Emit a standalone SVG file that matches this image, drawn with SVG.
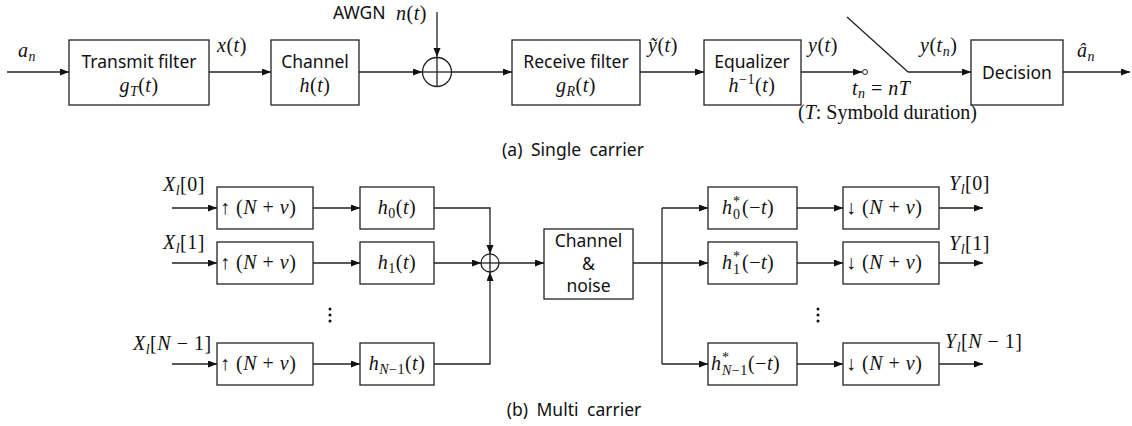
<svg xmlns="http://www.w3.org/2000/svg" width="1132" height="426" viewBox="0 0 1132 426">
<style>
.s{font-family:"Noto Sans","Liberation Sans",sans-serif;font-size:17.5px;fill:#111}
.m{font-family:"Liberation Serif",serif;font-size:20px;fill:#111;letter-spacing:0.5px}
.i{font-style:italic}
.sb{font-size:14px}
.box{fill:#fff;stroke:#222;stroke-width:1.3}
.ln{fill:none;stroke:#222;stroke-width:1.3}
.ar{marker-end:url(#ah)}
</style>
<defs>
<marker id="ah" markerUnits="userSpaceOnUse" markerWidth="10" markerHeight="8" refX="9" refY="3.5" orient="auto">
<path d="M0,0 L9,3.5 L0,7 z" fill="#111"/>
</marker>
</defs>
<rect width="1132" height="426" fill="#fff"/>

<!-- connectors -->
<g id="connectors">
<!-- part a -->
<line class="ln ar" x1="7" y1="72" x2="69" y2="72"/>
<line class="ln ar" x1="209" y1="72" x2="271" y2="72"/>
<line class="ln ar" x1="359" y1="72" x2="422" y2="72"/>
<line class="ln ar" x1="437" y1="12" x2="437" y2="57"/>
<line class="ln ar" x1="452" y1="72" x2="512" y2="72"/>
<line class="ln ar" x1="640" y1="72" x2="704" y2="72"/>
<line class="ln ar" x1="801" y1="72" x2="862" y2="72"/>
<circle cx="865" cy="72" r="2.5" fill="#fff" stroke="#222" stroke-width="1"/>
<line class="ln" x1="847" y1="17" x2="908" y2="72"/>
<line class="ln ar" x1="908" y1="72" x2="971" y2="72"/>
<line class="ln ar" x1="1063" y1="72" x2="1130" y2="72"/>
<!-- part b -->
<line class="ln ar" x1="172" y1="208" x2="217" y2="208"/>
<line class="ln ar" x1="172" y1="263" x2="217" y2="263"/>
<line class="ln ar" x1="172" y1="364" x2="217" y2="364"/>
<line class="ln ar" x1="313" y1="208" x2="360" y2="208"/>
<line class="ln ar" x1="313" y1="263" x2="360" y2="263"/>
<line class="ln ar" x1="313" y1="364" x2="360" y2="364"/>
<polyline class="ln ar" points="434,208 490,208 490,254"/>
<line class="ln ar" x1="434" y1="263" x2="481" y2="263"/>
<polyline class="ln ar" points="434,364 490,364 490,272"/>
<line class="ln ar" x1="499" y1="263" x2="544" y2="263"/>
<line class="ln ar" x1="633" y1="263" x2="708" y2="263"/>
<line class="ln" x1="662" y1="208" x2="662" y2="364"/>
<line class="ln ar" x1="662" y1="208" x2="708" y2="208"/>
<line class="ln ar" x1="662" y1="364" x2="708" y2="364"/>
<line class="ln ar" x1="797" y1="208" x2="843" y2="208"/>
<line class="ln ar" x1="797" y1="263" x2="843" y2="263"/>
<line class="ln ar" x1="797" y1="364" x2="843" y2="364"/>
<line class="ln ar" x1="939" y1="208" x2="983" y2="208"/>
<line class="ln ar" x1="939" y1="263" x2="983" y2="263"/>
<line class="ln ar" x1="939" y1="364" x2="983" y2="364"/>
</g>

<!-- part a nodes -->
<g id="transmit">
<rect class="box" x="69" y="40" width="140" height="65"/>
<text class="s" x="139" y="68" text-anchor="middle">Transmit filter</text>
<text class="m" x="139" y="92" text-anchor="middle"><tspan class="i">g</tspan><tspan class="i sb" dy="4">T</tspan><tspan dy="-4">(</tspan><tspan class="i">t</tspan>)</text>
</g>
<g id="channel">
<rect class="box" x="271" y="40" width="88" height="65"/>
<text class="s" x="315" y="68" text-anchor="middle">Channel</text>
<text class="m" x="315" y="92" text-anchor="middle"><tspan class="i">h</tspan>(<tspan class="i">t</tspan>)</text>
</g>
<g id="adder-a">
<circle cx="437" cy="72" r="14.5" fill="#fff" stroke="#222" stroke-width="1.3"/>
<line class="ln" x1="422.5" y1="72" x2="451.5" y2="72"/>
<line class="ln" x1="437" y1="57.5" x2="437" y2="86.5"/>
</g>
<g id="receive">
<rect class="box" x="512" y="40" width="128" height="65"/>
<text class="s" x="576" y="68" text-anchor="middle">Receive filter</text>
<text class="m" x="576" y="92" text-anchor="middle"><tspan class="i">g</tspan><tspan class="i sb" dy="4">R</tspan><tspan dy="-4">(</tspan><tspan class="i">t</tspan>)</text>
</g>
<g id="equalizer">
<rect class="box" x="704" y="40" width="97" height="65"/>
<text class="s" x="752" y="68" text-anchor="middle">Equalizer</text>
<text class="m" x="752" y="92" text-anchor="middle"><tspan class="i">h</tspan><tspan class="sb" dy="-8">−1</tspan><tspan dy="8">(</tspan><tspan class="i">t</tspan>)</text>
</g>
<g id="decision">
<rect class="box" x="971" y="40" width="92" height="65"/>
<text class="s" x="1017" y="79" text-anchor="middle">Decision</text>
</g>

<!-- part a labels -->
<g id="labels-a">
<text class="m" x="18" y="57"><tspan class="i">a</tspan><tspan class="i sb" dy="4">n</tspan></text>
<text class="m" x="217" y="52"><tspan class="i">x</tspan>(<tspan class="i">t</tspan>)</text>
<text class="s" x="333" y="19">AWGN</text>
<text class="m" x="396" y="20"><tspan class="i">n</tspan>(<tspan class="i">t</tspan>)</text>
<text class="m" x="648" y="52"><tspan class="i">ỹ</tspan>(<tspan class="i">t</tspan>)</text>
<text class="m" x="808" y="52"><tspan class="i">y</tspan>(<tspan class="i">t</tspan>)</text>
<text class="m" x="920" y="52"><tspan class="i">y</tspan>(<tspan class="i">t</tspan><tspan class="i sb" dy="4">n</tspan><tspan dy="-4">)</tspan></text>
<text class="m" x="1077" y="57"><tspan class="i">â</tspan><tspan class="i sb" dy="4">n</tspan></text>
<text class="m" x="852" y="95"><tspan class="i">t</tspan><tspan class="i sb" dy="3">n</tspan><tspan dy="-3"> = </tspan><tspan class="i">nT</tspan></text>
<text class="m" x="798" y="119" style="letter-spacing:0">(<tspan class="i">T</tspan>: Symbold duration)</text>
<text class="s" x="573" y="156" text-anchor="middle" style="word-spacing:4px">(a) Single carrier</text>
</g>

<!-- part b nodes -->
<g id="up0">
<rect class="box" x="217" y="187" width="96" height="42"/>
<text class="m" x="220" y="214">↑ (<tspan class="i">N</tspan> + <tspan class="i">v</tspan>)</text>
</g>
<g id="up1">
<rect class="box" x="217" y="242" width="96" height="42"/>
<text class="m" x="220" y="269">↑ (<tspan class="i">N</tspan> + <tspan class="i">v</tspan>)</text>
</g>
<g id="upN">
<rect class="box" x="217" y="343" width="96" height="42"/>
<text class="m" x="220" y="370">↑ (<tspan class="i">N</tspan> + <tspan class="i">v</tspan>)</text>
</g>
<g id="h0">
<rect class="box" x="360" y="187" width="74" height="42"/>
<text class="m" x="397" y="214" text-anchor="middle"><tspan class="i">h</tspan><tspan class="sb" dy="4">0</tspan><tspan dy="-4">(</tspan><tspan class="i">t</tspan>)</text>
</g>
<g id="h1">
<rect class="box" x="360" y="242" width="74" height="42"/>
<text class="m" x="397" y="269" text-anchor="middle"><tspan class="i">h</tspan><tspan class="sb" dy="4">1</tspan><tspan dy="-4">(</tspan><tspan class="i">t</tspan>)</text>
</g>
<g id="hN">
<rect class="box" x="360" y="343" width="74" height="42"/>
<text class="m" x="397" y="370" text-anchor="middle"><tspan class="i">h</tspan><tspan class="sb" dy="4"><tspan class="i">N</tspan>−1</tspan><tspan dy="-4">(</tspan><tspan class="i">t</tspan>)</text>
</g>
<g id="adder-b">
<circle cx="490" cy="263" r="9" fill="#fff" stroke="#222" stroke-width="1.3"/>
<line class="ln" x1="481" y1="263" x2="499" y2="263"/>
<line class="ln" x1="490" y1="254" x2="490" y2="272"/>
</g>
<g id="channel-noise">
<rect class="box" x="544" y="229" width="89" height="70"/>
<text class="s" x="588.5" y="247" text-anchor="middle">Channel</text>
<text class="s" x="588.5" y="270" text-anchor="middle">&amp;</text>
<text class="s" x="588.5" y="292" text-anchor="middle">noise</text>
</g>
<g id="mf0">
<rect class="box" x="708" y="187" width="89" height="42"/>
<text class="m" x="722" y="214"><tspan class="i">h</tspan><tspan class="sb" x="733" dy="-8">*</tspan><tspan class="sb" x="733" dy="13">0</tspan><tspan x="742" dy="-5">(−</tspan><tspan class="i">t</tspan>)</text>
</g>
<g id="mf1">
<rect class="box" x="708" y="242" width="89" height="42"/>
<text class="m" x="722" y="269"><tspan class="i">h</tspan><tspan class="sb" x="733" dy="-8">*</tspan><tspan class="sb" x="733" dy="13">1</tspan><tspan x="742" dy="-5">(−</tspan><tspan class="i">t</tspan>)</text>
</g>
<g id="mfN">
<rect class="box" x="708" y="343" width="89" height="42"/>
<text class="m" x="711" y="370"><tspan class="i">h</tspan><tspan class="sb" x="722" dy="-8">*</tspan><tspan class="sb" x="722" dy="13"><tspan class="i">N</tspan>−1</tspan><tspan x="748" dy="-5">(−</tspan><tspan class="i">t</tspan>)</text>
</g>
<g id="down0">
<rect class="box" x="843" y="187" width="96" height="42"/>
<text class="m" x="846" y="214">↓ (<tspan class="i">N</tspan> + <tspan class="i">v</tspan>)</text>
</g>
<g id="down1">
<rect class="box" x="843" y="242" width="96" height="42"/>
<text class="m" x="846" y="269">↓ (<tspan class="i">N</tspan> + <tspan class="i">v</tspan>)</text>
</g>
<g id="downN">
<rect class="box" x="843" y="343" width="96" height="42"/>
<text class="m" x="846" y="370">↓ (<tspan class="i">N</tspan> + <tspan class="i">v</tspan>)</text>
</g>

<!-- part b labels -->
<g id="labels-b">
<text class="m" x="163" y="191"><tspan class="i">X</tspan><tspan class="i sb" dy="4">l</tspan><tspan dy="-4">[0]</tspan></text>
<text class="m" x="163" y="249"><tspan class="i">X</tspan><tspan class="i sb" dy="4">l</tspan><tspan dy="-4">[1]</tspan></text>
<text class="m" x="133" y="350"><tspan class="i">X</tspan><tspan class="i sb" dy="4">l</tspan><tspan dy="-4">[</tspan><tspan class="i">N</tspan> − 1]</text>
<text class="m" x="949" y="190"><tspan class="i">Y</tspan><tspan class="i sb" dy="4">l</tspan><tspan dy="-4">[0]</tspan></text>
<text class="m" x="949" y="250"><tspan class="i">Y</tspan><tspan class="i sb" dy="4">l</tspan><tspan dy="-4">[1]</tspan></text>
<text class="m" x="945" y="348"><tspan class="i">Y</tspan><tspan class="i sb" dy="4">l</tspan><tspan dy="-4">[</tspan><tspan class="i">N</tspan> − 1]</text>
<g fill="#111">
<circle cx="330" cy="309" r="1.5"/><circle cx="330" cy="315" r="1.5"/><circle cx="330" cy="321" r="1.5"/>
<circle cx="818" cy="309" r="1.5"/><circle cx="818" cy="315" r="1.5"/><circle cx="818" cy="321" r="1.5"/>
</g>
<text class="s" x="574" y="416" text-anchor="middle" style="word-spacing:4px">(b) Multi carrier</text>
</g>
</svg>
